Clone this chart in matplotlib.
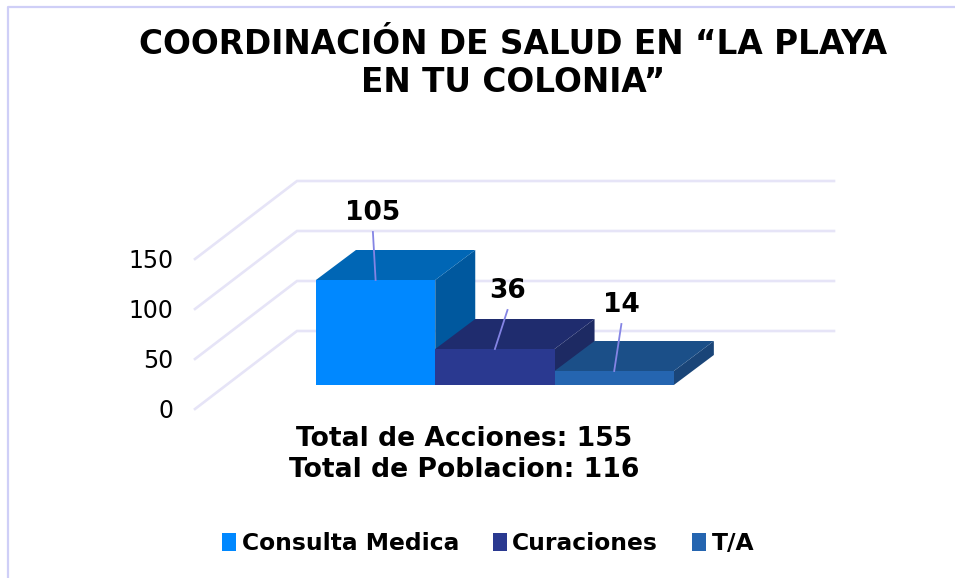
import matplotlib
matplotlib.use("Agg")
import matplotlib.pyplot as plt
from matplotlib.patches import Polygon, Patch

plt.rcParams["font.family"] = ["DejaVu Sans"]

title = "COORDINACIÓN DE SALUD EN “LA PLAYA\nEN TU COLONIA”"
series = ["Consulta Medica", "Curaciones", "T/A"]
values = [105, 36, 14]
y_ticks = [0, 50, 100, 150]
notes = "Total de Acciones: 155\nTotal de Poblacion: 116"

front_colors = ["#0088FF", "#2A3990", "#2565B0"]
top_colors = ["#0066B5", "#1F2C6E", "#1B4F88"]
side_colors = ["#00589E", "#1D2A63", "#1A4578"]
grid_color = "#E6E4F7"
border_color = "#CFCFF7"
leader_color = "#8484E4"

W, H = 955, 578

# front plane of the chart in pixels, depth goes up and to the right
PLOT_L, PLOT_R, PLOT_B, PLOT_T = 195, 732, 409, 259
WALL_DX, WALL_DY = 102, 78
BAR_DX, BAR_DY = 40, 30
FLOOR_DX, FLOOR_DY = 31.4, 24
BAR_W = 119.3
# label offset from the front top centre of each bar, pixels
LABEL_OFF = [(-3, 48, 67), (14, 39, 58), (8, 47, 66)]

fig = plt.figure(figsize=(W / 100, H / 100), dpi=100)
ax = fig.add_axes([PLOT_L / W, 1 - PLOT_B / H, (PLOT_R - PLOT_L) / W, (PLOT_B - PLOT_T) / H])
ax.set_xlim(0, PLOT_R - PLOT_L)
ax.set_ylim(y_ticks[0], y_ticks[-1])
ax.patch.set_visible(False)
for s in ax.spines.values():
    s.set_visible(False)
ax.set_xticks([])
ax.set_yticks(y_ticks)
ax.set_yticklabels([str(t) for t in y_ticks], fontsize=17)
ax.tick_params(axis="y", length=0, pad=15.7)

# walls
for t in y_ticks:
    ax.plot([0, WALL_DX, WALL_DX + PLOT_R - PLOT_L], [t, t + WALL_DY, t + WALL_DY],
            color=grid_color, lw=1.9, clip_on=False, zorder=1, solid_joinstyle="miter")

# bars
start = (PLOT_R - PLOT_L + 2 * FLOOR_DX - len(values) * BAR_W) / 2
for i, v in enumerate(values):
    x0 = start + i * BAR_W
    x1 = x0 + BAR_W
    y0 = FLOOR_DY
    y1 = y0 + v
    z = 2 + i * 0.1
    ax.add_patch(Polygon([(x1, y0), (x1 + BAR_DX, y0 + BAR_DY), (x1 + BAR_DX, y1 + BAR_DY), (x1, y1)],
                         fc=side_colors[i], ec="none", clip_on=False, zorder=z))
    ax.add_patch(Polygon([(x0, y1), (x1, y1), (x1 + BAR_DX, y1 + BAR_DY), (x0 + BAR_DX, y1 + BAR_DY)],
                         fc=top_colors[i], ec="none", clip_on=False, zorder=z))
    ax.add_patch(Polygon([(x0, y0), (x1, y0), (x1, y1), (x0, y1)],
                         fc=front_colors[i], ec="none", clip_on=False, zorder=z + 0.05))
    xc = (x0 + x1) / 2
    dx, lead, lab = LABEL_OFF[i]
    ax.plot([xc, xc + dx * 0.9], [y1, y1 + lead], color=leader_color, lw=1.3, clip_on=False, zorder=3)
    ax.text(xc + dx * 0.9, y1 + lab, str(v), ha="center", va="center", fontsize=19,
            fontweight="bold", color="black", zorder=4)

# frame of the chart area, open on the right and bottom
fig.add_artist(plt.Line2D([8 / W, 8 / W, 1], [0, 1 - 7 / H, 1 - 7 / H], color=border_color, lw=1.6))

fig.text(513 / W, 1 - 63.5 / H, title, ha="center", va="center", fontsize=23.6, fontweight="bold",
         linespacing=1.22)
fig.text(464 / W, 1 - 454.5 / H, notes, ha="center", va="center", fontsize=19.2, fontweight="bold",
         linespacing=1.27)

handles = [Patch(fc=c, ec="none", label=s) for c, s in zip(front_colors, series)]
fig.legend(handles=handles, loc="center", bbox_to_anchor=(488 / W, 1 - 544 / H), ncol=3, frameon=False,
           prop={"size": 16.8, "weight": "bold"}, handlelength=0.6, handleheight=0.8, handletextpad=0.25,
           columnspacing=1.44)

fig.savefig("out.png", dpi=100)
